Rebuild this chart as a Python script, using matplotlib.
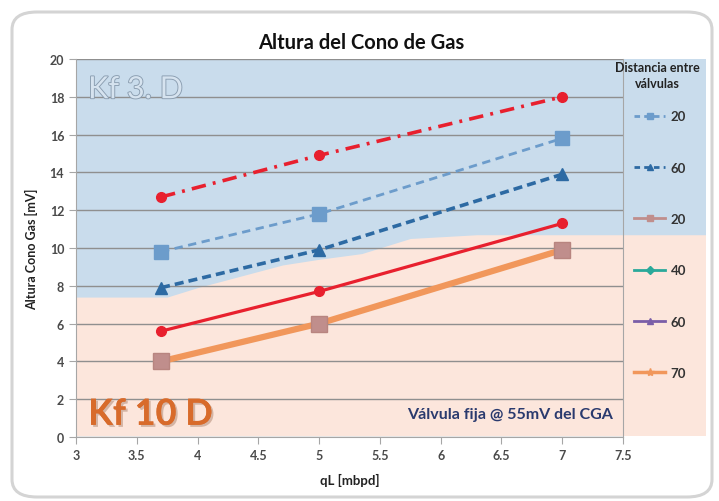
import numpy as np
import matplotlib.pyplot as plt
import matplotlib.patheffects as pe
from matplotlib.lines import Line2D
from matplotlib.patches import FancyBboxPatch

plt.rcParams['font.family'] = ['Lato', 'DejaVu Sans']

# caudal de liquido (mbpd)
qL = [3.7, 5, 7]

# altura del cono de gas (mV)
kf3_red = [12.7, 14.9, 18.0]      # curva limite Kf 3 D
sep20_a = [9.8, 11.8, 15.8]
sep60_a = [7.9, 9.9, 13.9]
kf10_red = [5.6, 7.7, 11.3]       # curva limite Kf 10 D
sep20_b = [4.0, 6.0, 9.9]
sep40_b = [4.0, 6.0, 9.9]
sep60_b = [4.0, 6.0, 9.9]
sep70_b = [4.0, 6.0, 9.9]

# frontera entre zonas Kf 3 D / Kf 10 D
zona_x = [3.0, 3.75, 4.0, 4.35, 4.7, 5.0, 5.35, 5.75, 6.3, 8.2]
zona_y = [7.4, 7.4, 7.9, 8.5, 9.1, 9.4, 9.7, 10.5, 10.7, 10.7]

leg_labels = ['20', '60', '20', '40', '60', '70']

W, H = 719, 502
fig = plt.figure(figsize=(W / 100, H / 100), dpi=100)
fig.patch.set_facecolor('white')

# marco redondeado
frame = FancyBboxPatch((12 / W, 4 / H), 700 / W, 485 / H,
                       boxstyle='round,pad=0,rounding_size=0.035',
                       transform=fig.transFigure, facecolor='white',
                       edgecolor='#d4d4d4', lw=2.2, zorder=-5)
fig.patches.append(frame)

x0, x1, y0, y1 = 76, 623, 438, 60
sc = (x1 - x0) / 4.5
bg_right = 705

# fondo de zonas (se extiende bajo la leyenda)
bg = fig.add_axes([x0 / W, (H - 436) / H, (bg_right - x0) / W, (436 - y1) / H])
bg.set_xlim(3, 3 + (bg_right - x0) / sc)
bg.set_ylim(0.1, 20)
bg.axis('off')
bx = np.array(zona_x)
by = np.array(zona_y)
bg.fill_between([3, bx.max()], 0, 20, color='#c9dcec', lw=0)
bg.fill_between(bx, 0, by, color='#fce6dc', lw=0)

ax = fig.add_axes([x0 / W, (H - y0) / H, (x1 - x0) / W, (y0 - y1) / H])
ax.set_facecolor('none')
ax.set_xlim(3, 7.5)
ax.set_ylim(0, 20)
ax.set_xticks(np.arange(3, 7.51, 0.5))
ax.set_xticklabels(['3', '3.5', '4', '4.5', '5', '5.5', '6', '6.5', '7', '7.5'])
ax.set_yticks(np.arange(0, 21, 2))
ax.yaxis.grid(True, color='#8f8f8f', lw=1.0)
ax.set_axisbelow(True)
for s in ['left', 'bottom', 'right']:
    ax.spines[s].set_color('#a6a6a6')
ax.spines['top'].set_visible(False)
ax.tick_params(axis='both', colors='#a6a6a6', length=5, labelsize=9,
               labelcolor='#4a4a4a')
for t in ax.get_xticklabels() + ax.get_yticklabels():
    t.set_fontweight('bold')

ax.plot(qL, kf3_red, color='#e8202e', lw=2.6, dashes=(4, 2, 0.8, 2),
        marker='o', ms=7, zorder=5)
l20a, = ax.plot(qL, sep20_a, color='#6c9ccb', lw=2, dashes=(3, 2),
                marker='s', ms=10, zorder=5)
l60a, = ax.plot(qL, sep60_a, color='#2d6aa3', lw=2.6, dashes=(2.5, 1.4),
                marker='^', ms=9, zorder=5)
ax.plot(qL, kf10_red, color='#e8202e', lw=2.3, marker='o', ms=7, zorder=5)
l40b, = ax.plot(qL, sep40_b, color='#2aa99a', lw=2, marker='D', ms=6, zorder=3)
l60b, = ax.plot(qL, sep60_b, color='#7a5ea8', lw=2, marker='^', ms=6, zorder=3)
l70b, = ax.plot(qL, sep70_b, color='#f1975b', lw=4.5, zorder=4)
l20b, = ax.plot(qL, sep20_b, color='#c08e8c', lw=0, marker='s', ms=11,
                markeredgecolor='#b88580', zorder=6)

ax.set_xlabel('qL [mbpd]', fontsize=9.5, fontweight='bold', color='#222222',
              labelpad=9)
ax.set_ylabel('Altura Cono Gas [mV]', fontsize=9, fontweight='bold',
              color='#222222', labelpad=8)
fig.text(361 / W, 1 - 43 / H, 'Altura del Cono de Gas', ha='center',
         va='center', fontsize=14.5, fontweight='bold', color='#111111')

ax.text(3.1, 18.4, 'Kf 3. D', fontsize=22, color='#d6e3ef', va='center',
        path_effects=[pe.withStroke(linewidth=1.3, foreground='#8a9db0')],
        zorder=2)
ax.text(3.1, 1.2, 'Kf 10 D', fontsize=26, fontweight='bold',
        color='#d86b2b', va='center', zorder=2,
        path_effects=[pe.withSimplePatchShadow(offset=(1.5, -1.5),
                                               shadow_rgbFace='#9a6a50',
                                               alpha=0.4), pe.Normal()])
ax.text(7.42, 1.2, 'Válvula fija @ 55mV del CGA', fontsize=11.5,
        fontweight='bold', color='#2a3a6e', ha='right', va='center', zorder=2)

# leyenda: titulo aparte para controlar la separacion
fig.text(657 / W, 1 - 76 / H, 'Distancia entre\nválvulas', ha='center',
         va='center', ma='center', fontsize=9, fontweight='bold',
         color='#222222', linespacing=1.5)
handles = [
    Line2D([], [], color='#6c9ccb', lw=2, dashes=(2, 1.5), marker='s', ms=5),
    Line2D([], [], color='#2d6aa3', lw=2, dashes=(2, 1.5), marker='^', ms=5),
    Line2D([], [], color='#c08e8c', lw=2, marker='s', ms=5),
    Line2D([], [], color='#2aa99a', lw=2, marker='D', ms=4),
    Line2D([], [], color='#7a5ea8', lw=2, marker='^', ms=5),
    Line2D([], [], color='#f1975b', lw=2.5, marker='*', ms=6),
]
leg = fig.legend(handles, leg_labels,
                 loc='upper center', bbox_to_anchor=(660 / W, 1 - 106 / H),
                 frameon=False, fontsize=9.5,
                 labelspacing=2.98, handlelength=2.4, handletextpad=0.4,
                 borderaxespad=0)
for t in leg.get_texts():
    t.set_fontweight('bold')
    t.set_color('#333333')

fig.savefig('out.png', dpi=100)
